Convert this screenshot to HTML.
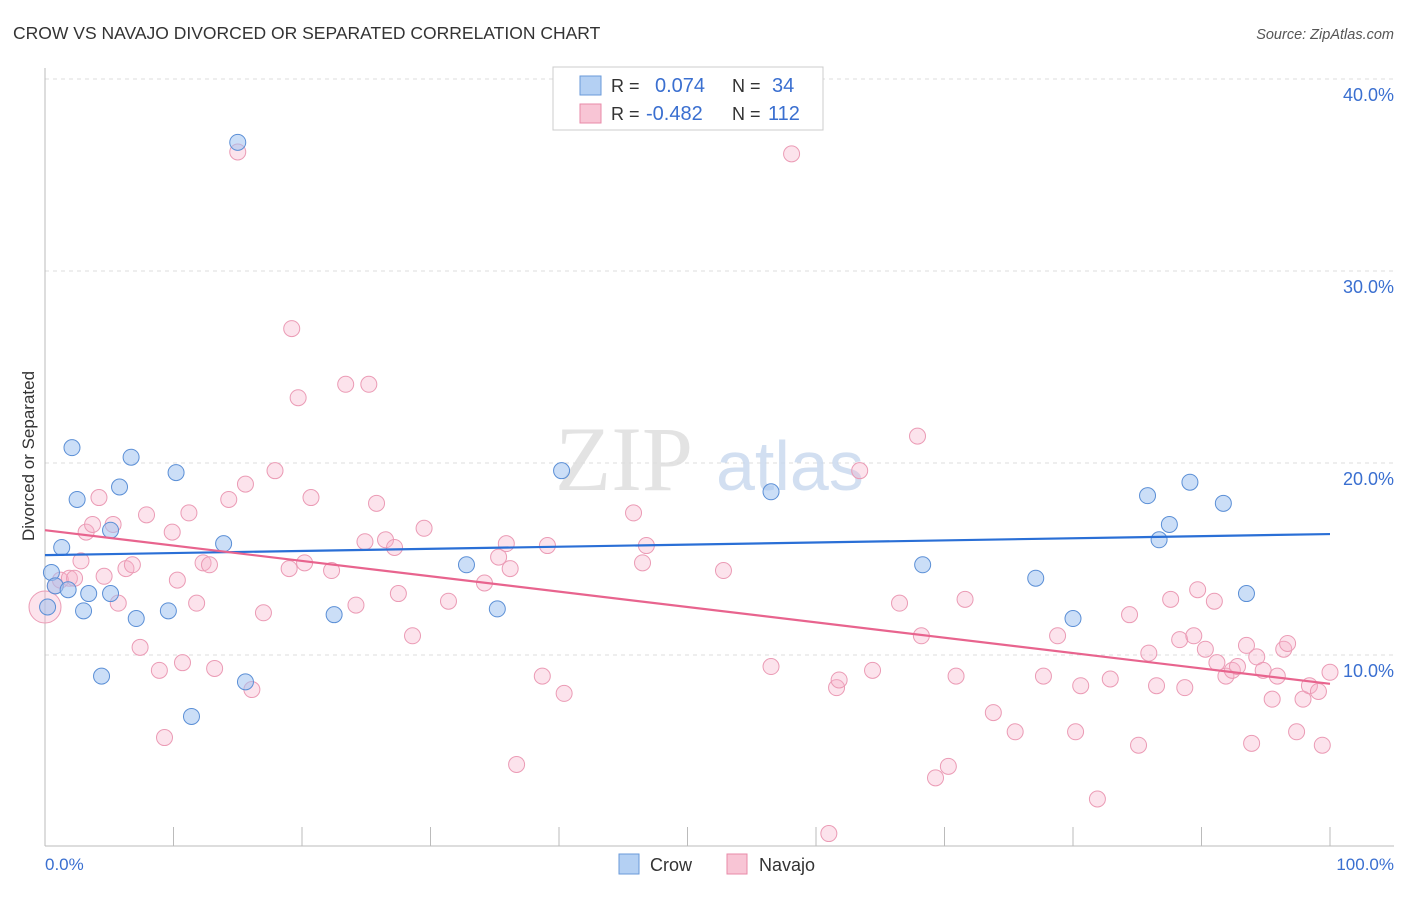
<!DOCTYPE html>
<html><head><meta charset="utf-8">
<style>
html,body{margin:0;padding:0;background:#fff;}
body{width:1406px;height:892px;overflow:hidden;font-family:"Liberation Sans",sans-serif;}
</style></head>
<body>
<svg id="chart" width="1406" height="892" xmlns="http://www.w3.org/2000/svg" font-family="Liberation Sans, sans-serif">
<text x="13" y="39" font-size="17.5" fill="#333">CROW VS NAVAJO DIVORCED OR SEPARATED CORRELATION CHART</text>
<text x="1394" y="39" font-size="14.5" fill="#555" font-style="italic" text-anchor="end">Source: ZipAtlas.com</text>
<g id="grid"></g>
<text x="555" y="490" font-size="92" font-family="Liberation Serif, serif" fill="#ddd" opacity="0.8">ZIP</text>
<text x="716" y="490" font-size="70" fill="#c8d8ee" opacity="0.8">atlas</text>
<line x1="45" y1="68" x2="45" y2="846" stroke="#bbb" stroke-width="1"/>
<line x1="45" y1="846" x2="1394" y2="846" stroke="#bbb" stroke-width="1"/>
<g id="ticks"></g>
<g id="ylabels"></g>
<text transform="translate(34,456) rotate(-90)" font-size="17" fill="#333" text-anchor="middle">Divorced or Separated</text>
<text x="45" y="870" font-size="17" fill="#3a6fd0">0.0%</text>
<text x="1394" y="870" font-size="17" fill="#3a6fd0" text-anchor="end">100.0%</text>
<g id="pink"></g>
<g id="blue"></g>
<g id="trends"></g>
<g>
<rect x="553" y="67" width="270" height="63" fill="#fff" stroke="#ccc"/>
<rect x="580" y="76" width="21" height="19" fill="#b4d0f3" stroke="#6a9ad9"/>
<rect x="580" y="104" width="21" height="19" fill="#f8c5d5" stroke="#e88aa8"/>
<text x="611" y="92" font-size="18" fill="#333">R = </text>
<text x="655" y="92" font-size="20" fill="#3a6fd0">0.074</text>
<text x="732" y="92" font-size="18" fill="#333">N = </text>
<text x="772" y="92" font-size="20" fill="#3a6fd0">34</text>
<text x="611" y="120" font-size="18" fill="#333">R = </text>
<text x="646" y="120" font-size="20" fill="#3a6fd0">-0.482</text>
<text x="732" y="120" font-size="18" fill="#333">N = </text>
<text x="768" y="120" font-size="20" fill="#3a6fd0">112</text>
</g>
<g>
<rect x="619" y="854" width="20" height="20" fill="#b4d0f3" stroke="#6a9ad9"/>
<text x="650" y="871" font-size="18" fill="#333">Crow</text>
</g>
<g>
<rect x="727" y="854" width="20" height="20" fill="#f8c5d5" stroke="#e88aa8"/>
<text x="759" y="871" font-size="18" fill="#333">Navajo</text>
</g>
</svg>
<script>
const yTicks=[10,20,30,40];
const yTickLabels=["10.0%","20.0%","30.0%","40.0%"];
const xTicks=[0,10,20,30,40,50,60,70,80,90,100];
const crowX=[0.2,0.5,0.8,1.3,1.8,2.1,2.5,3.0,3.4,4.4,5.1,5.1,5.8,6.7,7.1,9.6,10.2,11.4,13.9,15.0,15.6,22.5,32.8,35.2,40.2,56.5,68.3,77.1,80.0,85.8,86.7,87.5,89.1,91.7,93.5];
const crowY=[12.5,14.3,13.6,15.6,13.4,20.8,18.1,12.3,13.2,8.9,16.5,13.2,18.75,20.3,11.9,12.3,19.5,6.8,15.8,36.7,8.6,12.1,14.7,12.4,19.6,18.5,14.7,14.0,11.9,18.3,16.0,16.8,19.0,17.9,13.2];
const navajoX=[0,0.8,1.2,1.9,2.3,2.8,3.2,3.7,4.2,4.6,5.3,5.7,6.3,6.8,7.4,7.9,8.9,9.3,9.9,10.3,10.7,11.2,11.8,12.3,12.8,13.2,14.3,15.0,15.6,16.1,17.0,17.9,19.0,19.2,19.7,20.2,20.7,22.3,23.4,24.2,24.9,25.2,25.8,26.5,27.2,27.5,28.6,29.5,31.4,34.2,35.3,35.9,36.2,36.7,38.7,39.1,40.4,45.8,46.5,46.8,52.8,56.5,58.1,61.0,61.6,61.8,63.4,64.4,66.5,67.9,68.2,69.3,70.3,70.9,71.6,73.8,75.5,77.7,78.8,80.2,80.6,81.9,82.9,84.4,85.1,85.9,86.5,87.6,88.3,88.7,89.4,89.7,90.3,91.0,91.2,91.9,92.4,92.8,93.5,93.9,94.3,94.8,95.5,95.9,96.4,96.7,97.4,97.9,98.4,99.1,99.4,100];
const navajoY=[12.5,13.6,13.9,14.0,14.0,14.9,16.4,16.8,18.2,14.1,16.8,12.7,14.5,14.7,10.4,17.3,9.2,5.7,16.4,13.9,9.6,17.4,12.7,14.8,14.7,9.3,18.1,36.2,18.9,8.2,12.2,19.6,14.5,27.0,23.4,14.8,18.2,14.4,24.1,12.6,15.9,24.1,17.9,16.0,15.6,13.2,11.0,16.6,12.8,13.75,15.1,15.8,14.5,4.3,8.9,15.7,8.0,17.4,14.8,15.7,14.4,9.4,36.1,0.7,8.3,8.7,19.6,9.2,12.7,21.4,11.0,3.6,4.2,8.9,12.9,7.0,6.0,8.9,11.0,6.0,8.4,2.5,8.75,12.1,5.3,10.1,8.4,12.9,10.8,8.3,11.0,13.4,10.3,12.8,9.6,8.9,9.2,9.4,10.5,5.4,9.9,9.2,7.7,8.9,10.3,10.6,6.0,7.7,8.4,8.1,5.3,9.1];
const crowTrend=[15.2,16.3];
const navajoTrend=[16.5,8.5];

const NS="http://www.w3.org/2000/svg";
const X0=45,X1=1330,Y0=847,PXPER=19.2;
function sx(v){return X0+(X1-X0)*v/100;}
function sy(v){return Y0-v*PXPER;}
function mk(tag,attrs,parent){const e=document.createElementNS(NS,tag);for(const k in attrs)e.setAttribute(k,attrs[k]);parent.appendChild(e);return e;}
const grid=document.getElementById('grid'),yl=document.getElementById('ylabels'),tk=document.getElementById('ticks');
yTicks.forEach((t,i)=>{
  const l=mk('line',{x1:45,x2:1394,y1:sy(t),y2:sy(t),stroke:'#ddd','stroke-dasharray':'4,4'},grid);
  
  
  const tx=mk('text',{x:1394,y:sy(t)+22,'font-size':18,fill:'#3a6fd0','text-anchor':'end'},yl);
  tx.textContent=yTickLabels[i];
  
  
});
xTicks.forEach(t=>{
  const l=mk('line',{x1:sx(t),x2:sx(t),y1:827,y2:846,stroke:'#bbb'},tk);
  
  
});
const pg=document.getElementById('pink');
navajoX.forEach((x,i)=>{
  const c=mk('circle',{cx:sx(x),cy:sy(navajoY[i]),r:i===0?16:8,fill:'rgba(245,175,200,0.35)',stroke:'#eb9bb5','stroke-width':1},pg);
  
  
});
const bg=document.getElementById('blue');
crowX.forEach((x,i)=>{
  const c=mk('circle',{cx:sx(x),cy:sy(crowY[i]),r:8,fill:'rgba(160,195,240,0.55)',stroke:'#5b8fd6','stroke-width':1},bg);
  
  
});
const tg=document.getElementById('trends');
const bl=mk('line',{x1:sx(0),y1:sy(crowTrend[0]),x2:sx(100),y2:sy(crowTrend[1]),stroke:'#2a6fd6','stroke-width':2.2},tg);


const pl=mk('line',{x1:sx(0),y1:sy(navajoTrend[0]),x2:sx(100),y2:sy(navajoTrend[1]),stroke:'#e8648e','stroke-width':2.2},tg);


</script>
</body></html>
